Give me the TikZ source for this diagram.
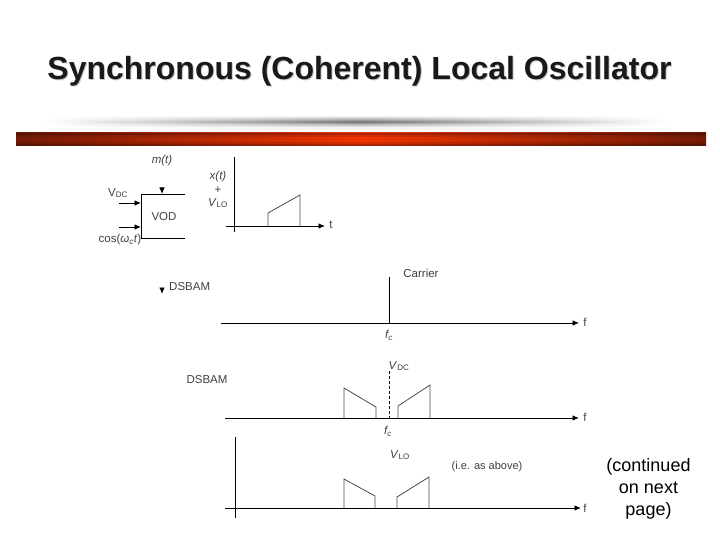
\documentclass[tikz,border=0pt]{standalone}
\usepackage{fontspec}
\setmainfont{Liberation Sans}
\usetikzlibrary{arrows.meta}
\definecolor{barDark}{HTML}{741A06}
\definecolor{barMid}{HTML}{F03400}
\tikzset{
  x=1pt,y=-1pt,
  axisline/.style={draw=black,line width=0.9pt},
  arrowline/.style={axisline,-{Latex[length=6.5pt,width=5.5pt]}},
  bandline/.style={draw=black!70,line width=0.8pt},
  lbl/.style={font=\fontsize{11.5}{12}\selectfont,text=black!75,inner sep=0pt},
  ilbl/.style={lbl,font=\fontsize{11.5}{12}\selectfont\itshape},
  smalllbl/.style={lbl,font=\fontsize{11}{12}\selectfont},
  note/.style={font=\fontsize{18}{22}\selectfont,align=center,inner sep=0pt,text=black},
  titletxt/.style={font=\fontsize{32}{34}\selectfont\bfseries,inner sep=0pt}
}
\begin{document}
\begin{tikzpicture}
\useasboundingbox (0,0) rectangle (720,540);
\fill[white] (0,0) rectangle (720,540);
% title
\node[titletxt,text=black!22] (titleshadow) at (360.5,72) {Synchronous (Coherent) Local Oscillator};
\node[titletxt,text=black!90] (titlemain) at (359.5,71) {Synchronous (Coherent) Local Oscillator};
% grey bar
\foreach \ya/\yb/\g in {117/118/5,118/119/14,119/120/22,120/121/30,121/122/40,122/124/52,124/125/40,125/126/30,126/127/22,127/128/14,128/130/5}{
  \shade[left color=white,right color=black!\g,draw=none] (44,\ya) rectangle (360,\yb);
  \shade[left color=black!\g,right color=white,draw=none] (360,\ya) rectangle (668,\yb);
}
% red bar
\shade[left color=barDark,right color=barMid] (16,133) rectangle (361,146);
\shade[left color=barMid,right color=barDark] (361,133) rectangle (706,146);
\fill[black,opacity=.28] (16,133) rectangle (706,135);
\fill[black,opacity=.10] (16,135) rectangle (706,137);
\fill[black,opacity=.10] (16,142) rectangle (706,144);
\fill[black,opacity=.28] (16,144) rectangle (706,146);

% VOD block
\coordinate (boxTR) at (185,194);
\coordinate (boxTL) at (141,194);
\coordinate (boxBL) at (141,238);
\coordinate (boxBR) at (185,238);
\draw[axisline] (boxTR) -- (boxTL) -- (boxBL) -- (boxBR);
\coordinate (vccS) at (119,203);
\coordinate (vccE) at (141,203);
\coordinate (cosS) at (119,227);
\coordinate (cosE) at (141,227);
\draw[arrowline] (vccS) -- (vccE);
\draw[arrowline] (cosS) -- (cosE);
\coordinate (mS) at (162,188);
\coordinate (mE) at (162,194);
\draw[arrowline] (mS) -- (mE);
\node[ilbl] (mt) at (162,161) {m(t)};
\node[lbl] (vcc) at (118,193) {V\textsubscript{\fontsize{8}{8}\selectfont DC}};
\node[lbl] (vod) at (164,217) {VOD};
\node[lbl] (cos) at (120,240) {cos(\textit{ω\textsubscript{c}t})};

% top time plot
\coordinate (a1T) at (234,157);
\coordinate (a1B) at (234,232);
\coordinate (a1L) at (226,226);
\coordinate (a1R) at (325,226);
\draw[axisline] (a1T) -- (a1B);
\draw[arrowline] (a1L) -- (a1R);
\node[lbl] (t1) at (331,225) {t};
\node[ilbl] (xt) at (218,177) {x(t)};
\node[lbl] (plus) at (218,190) {+};
\node[lbl] (vlo) at (218,203) {\textit{V}\textsubscript{\fontsize{8}{8}\selectfont LO}};
\coordinate (p1) at (268,226);
\coordinate (p2) at (268,213);
\coordinate (p3) at (300,195);
\coordinate (p4) at (300,226);
\draw[bandline] (p1) -- (p2) -- (p3) -- (p4);

% DSBAM marker
\coordinate (dmS) at (162,288);
\coordinate (dmE) at (162,294);
\draw[arrowline] (dmS) -- (dmE);
\node[lbl,anchor=west] (dsb1) at (169,287) {DSBAM};

% carrier plot
\coordinate (a2L) at (221,323);
\coordinate (a2R) at (579,323);
\draw[arrowline] (a2L) -- (a2R);
\node[lbl] (f2) at (585,322) {f};
\coordinate (cT) at (389,277);
\coordinate (cB) at (389,323);
\draw[axisline] (cT) -- (cB);
\node[lbl] (carrier) at (421,273) {Carrier};
\node[ilbl] (fc1) at (389,335) {f\textsubscript{\fontsize{8}{8}\selectfont c}};

% DSBAM plot
\node[lbl] (dsb2) at (207,380) {DSBAM};
\coordinate (a3L) at (225,418);
\coordinate (a3R) at (579,418);
\draw[arrowline] (a3L) -- (a3R);
\node[lbl] (f3) at (585,417) {f};
\coordinate (dT) at (389,371);
\coordinate (dB) at (389,418);
\draw[axisline,dash pattern=on 3pt off 2pt] (dT) -- (dB);
\node[lbl] (vdc) at (399,366) {\textit{V}\textsubscript{\fontsize{8}{8}\selectfont DC}};
\coordinate (l1) at (344,418); \coordinate (l2) at (344,388);
\coordinate (l3) at (376,407); \coordinate (l4) at (376,418);
\coordinate (r1) at (398,418); \coordinate (r2) at (398,406);
\coordinate (r3) at (430,385); \coordinate (r4) at (430,418);
\draw[bandline] (l1) -- (l2) -- (l3) -- (l4);
\draw[bandline] (r1) -- (r2) -- (r3) -- (r4);
\node[ilbl] (fc2) at (388,431) {f\textsubscript{\fontsize{8}{8}\selectfont c}};

% bottom plot
\coordinate (a4T) at (235,437);
\coordinate (a4B) at (235,518);
\coordinate (a4L) at (225,508);
\coordinate (a4R) at (581,508);
\draw[axisline] (a4T) -- (a4B);
\draw[arrowline] (a4L) -- (a4R);
\node[lbl] (f4) at (585,508) {f};
\node[lbl] (vlo2) at (400,455) {\textit{V}\textsubscript{\fontsize{8}{8}\selectfont LO}};
\node[smalllbl] (ie) at (487,467) {(i.e. as above)};
\coordinate (m1) at (344,508); \coordinate (m2) at (344,479);
\coordinate (m3) at (375,496); \coordinate (m4) at (375,508);
\coordinate (n1) at (397,508); \coordinate (n2) at (397,497);
\coordinate (n3) at (429,477); \coordinate (n4) at (429,508);
\draw[bandline] (m1) -- (m2) -- (m3) -- (m4);
\draw[bandline] (n1) -- (n2) -- (n3) -- (n4);
\node[note] (cont) at (648.5,489) {(continued\\on next\\page)};
\end{tikzpicture}
\end{document}
